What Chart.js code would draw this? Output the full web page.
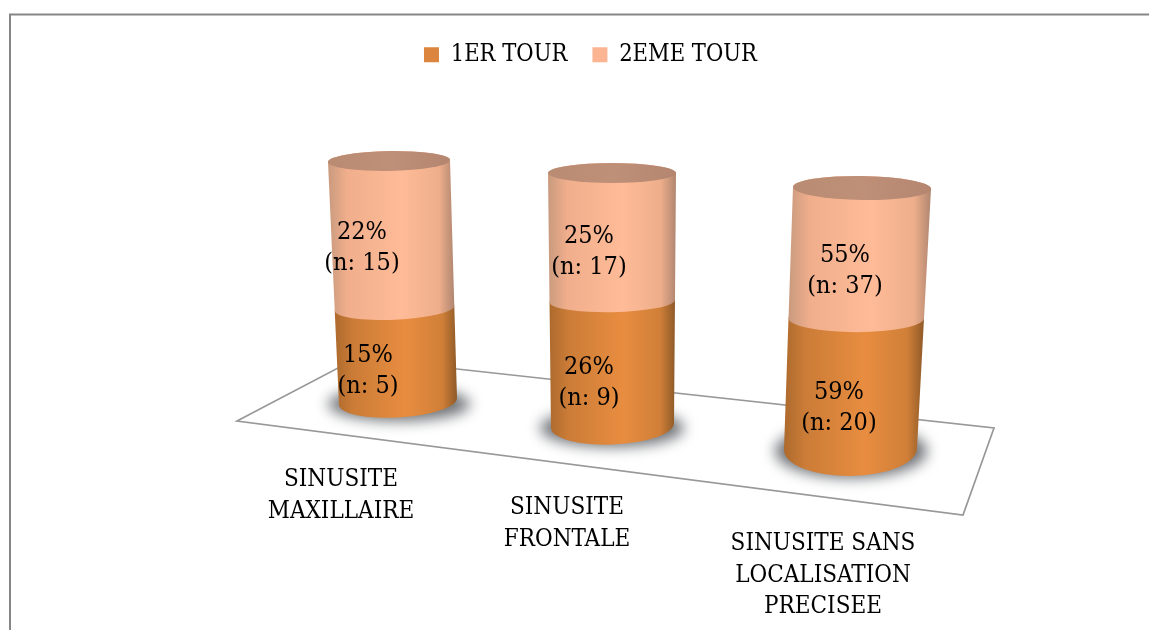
<!DOCTYPE html>
<html lang="fr">
<head>
  <meta charset="UTF-8">
  <title>Sinusite - 1er et 2eme tour</title>
  <style>
    html, body { margin: 0; padding: 0; background: #fff; }
    canvas { display: block; }
  </style>
</head>
<body>
  <canvas id="chart" width="1149" height="630"></canvas>
  <script src="https://cdn.jsdelivr.net/npm/chart.js"></script>
  <script>
    const categories = [
      ['SINUSITE', 'MAXILLAIRE'],
      ['SINUSITE', 'FRONTALE'],
      ['SINUSITE SANS', 'LOCALISATION', 'PRECISEE']
    ];
    const seriesNames = ['1ER TOUR', '2EME TOUR'];
    const firstTourPct = [15, 26, 59];
    const secondTourPct = [22, 25, 55];
    const firstTourN = [5, 9, 20];
    const secondTourN = [15, 17, 37];

    // each column fills the full height, like a 100% stacked chart
    const firstShare = firstTourPct.map((v, i) => v / (v + secondTourPct[i]) * 100);
    const secondShare = secondTourPct.map((v, i) => v / (v + firstTourPct[i]) * 100);

    const FONT = '"DejaVu Serif Condensed", "Liberation Serif", serif';

    // the fake 3d view: where each cylinder ends up on the page
    const views = [
      { lb: [339, 405], rb: [457, 398], lt: [328, 162], rt: [450, 160], ryb: 16, ryt: 10, shadow: [399, 404, 71, 17] },
      { lb: [551, 428], rb: [674, 423], lt: [548, 173], rt: [676, 173], ryb: 19, ryt: 10, shadow: [612, 428, 72, 19] },
      { lb: [784, 450], rb: [917, 448], lt: [793, 187], rt: [931, 189], ryb: 27, ryt: 12, shadow: [851, 451, 76, 27] }
    ];
    const floor = [[237, 421], [357, 358], [994, 428], [963, 515]];
    const valueSpots = [
      [[368, 362], [362, 239]],
      [[589, 374], [589, 243]],
      [[839, 399], [845, 262]]
    ];
    const categorySpots = [[341, 486], [567, 514], [823, 550]];

    const bodyColors = [
      ['#ad6a2d', '#cb7c37', '#e88d40', '#d07f38', '#8f5a28'],
      ['#c99a7e', '#f0ae8c', '#ffbb97', '#eeae8b', '#b08670']
    ];

    function lerp(a, b, t) { return a + (b - a) * t; }

    // a ring across the cylinder at height t (0 = floor, 1 = top)
    function ring(view, t) {
      const k = Math.pow(t, 1.05);
      const lx = lerp(view.lb[0], view.lt[0], k), ly = lerp(view.lb[1], view.lt[1], k);
      const rx = lerp(view.rb[0], view.rt[0], k), ry = lerp(view.rb[1], view.rt[1], k);
      return {
        lx, rx,
        cx: (lx + rx) / 2,
        cy: (ly + ry) / 2,
        a: Math.hypot(rx - lx, ry - ly) / 2,
        b: view.ryt + (view.ryb - view.ryt) * Math.pow(1 - k, 3),
        rot: Math.atan2(ry - ly, rx - lx)
      };
    }

    function drawSegment(ctx, view, t0, t1, colors) {
      const lo = ring(view, t0), hi = ring(view, t1);
      const grad = ctx.createLinearGradient(Math.min(lo.lx, hi.lx), 0, Math.max(lo.rx, hi.rx), 0);
      [0, 0.15, 0.58, 0.88, 1].forEach((s, i) => grad.addColorStop(s, colors[i]));
      ctx.beginPath();
      ctx.ellipse(lo.cx, lo.cy, lo.a, lo.b, lo.rot, 0, Math.PI);
      ctx.ellipse(hi.cx, hi.cy, hi.a, hi.b, hi.rot, Math.PI, Math.PI * 2);
      ctx.closePath();
      ctx.fillStyle = grad;
      ctx.fill();
    }

    const cylinders = {
      id: 'cylinders',
      beforeDraw(chart) {
        // frame of the pasted chart: only top and left edges are in the crop
        const ctx = chart.ctx;
        ctx.save();
        ctx.strokeStyle = '#868686';
        ctx.lineWidth = 2;
        ctx.beginPath();
        ctx.moveTo(10, 630);
        ctx.lineTo(10, 14.5);
        ctx.lineTo(1149, 14.5);
        ctx.stroke();
        ctx.restore();
      },
      beforeDatasetsDraw(chart) {
        const ctx = chart.ctx;
        ctx.save();
        ctx.strokeStyle = '#989898';
        ctx.lineWidth = 1.7;
        ctx.beginPath();
        floor.forEach((p, i) => i ? ctx.lineTo(p[0], p[1]) : ctx.moveTo(p[0], p[1]));
        ctx.closePath();
        ctx.stroke();
        ctx.filter = 'blur(7px)';
        ctx.fillStyle = '#6f7276';
        views.forEach(v => {
          ctx.beginPath();
          ctx.ellipse(v.shadow[0], v.shadow[1], v.shadow[2], v.shadow[3], 0, 0, Math.PI * 2);
          ctx.fill();
        });
        ctx.restore();
      },
      beforeDatasetDraw() {
        return false; // bars are painted as cylinders below
      },
      afterDatasetsDraw(chart) {
        const ctx = chart.ctx;
        const yScale = chart.scales.y;
        ctx.save();
        [0, 1].forEach(ds => {
          chart.getDatasetMeta(ds).data.forEach((bar, i) => {
            const t0 = yScale.getValueForPixel(bar.base) / 100;
            const t1 = yScale.getValueForPixel(bar.y) / 100;
            drawSegment(ctx, views[i], t0, t1, bodyColors[ds]);
          });
        });
        views.forEach(v => {
          const top = ring(v, 1);
          const grad = ctx.createLinearGradient(top.lx, 0, top.rx, 0);
          grad.addColorStop(0, '#b98b72');
          grad.addColorStop(0.5, '#bf9078');
          grad.addColorStop(1, '#b48670');
          ctx.beginPath();
          ctx.ellipse(top.cx, top.cy, top.a, top.b, top.rot, 0, Math.PI * 2);
          ctx.fillStyle = grad;
          ctx.fill();
        });

        ctx.fillStyle = '#000';
        ctx.textAlign = 'center';
        ctx.textBaseline = 'alphabetic';
        ctx.font = '25px ' + FONT;
        [[firstTourPct, firstTourN], [secondTourPct, secondTourN]].forEach((pair, ds) => {
          pair[0].forEach((pct, i) => {
            const spot = valueSpots[i][ds];
            ctx.fillText(pct + '%', spot[0], spot[1]);
            ctx.fillText('(n: ' + pair[1][i] + ')', spot[0], spot[1] + 31);
          });
        });
        ctx.font = '24px ' + FONT;
        categories.forEach((lines, i) => {
          lines.forEach((line, j) => {
            ctx.fillText(line, categorySpots[i][0], categorySpots[i][1] + j * 31.5);
          });
        });
        ctx.restore();
      }
    };

    new Chart(document.getElementById('chart'), {
      type: 'bar',
      data: {
        labels: categories,
        datasets: [
          { label: seriesNames[0], data: firstShare, backgroundColor: '#dc853e', borderWidth: 0 },
          { label: seriesNames[1], data: secondShare, backgroundColor: '#fbb592', borderWidth: 0 }
        ]
      },
      options: {
        responsive: false,
        animation: false,
        layout: { padding: { top: 18, left: 32, bottom: 190 } },
        scales: {
          x: { stacked: true, display: false },
          y: { stacked: true, display: false, min: 0, max: 100 }
        },
        plugins: {
          tooltip: { enabled: false },
          legend: {
            position: 'top',
            labels: {
              boxWidth: 15,
              boxHeight: 15,
              padding: 25,
              color: '#000',
              font: { family: FONT, size: 23.5 }
            }
          }
        }
      },
      plugins: [cylinders]
    });
  </script>
</body>
</html>
